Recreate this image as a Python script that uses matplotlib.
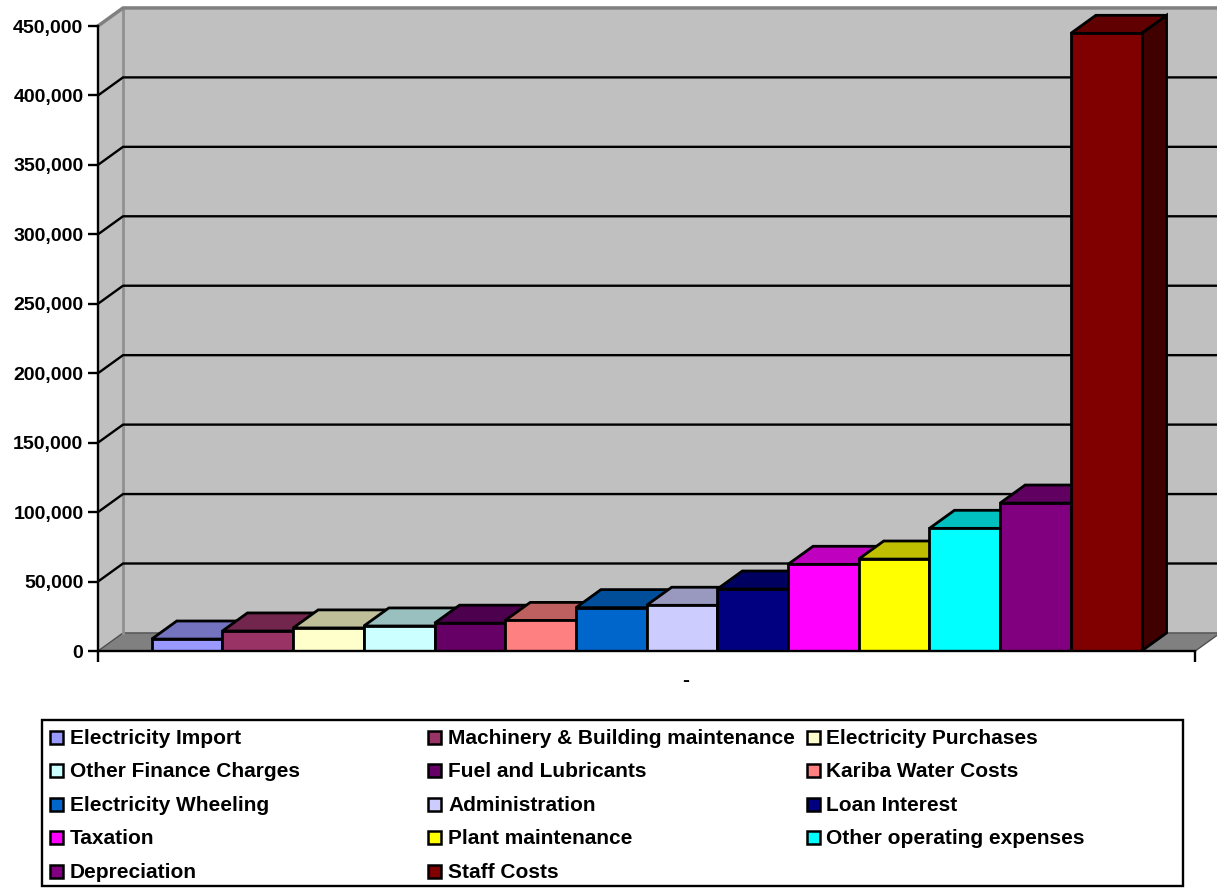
"""
Custos operacionais por rubrica - gráfico de barras em estilo 3D (Excel).
"""

import matplotlib
matplotlib.use("Agg")
import matplotlib.pyplot as plt
import matplotlib.colors as mcolors
from matplotlib.patches import Polygon, Rectangle
from matplotlib.ticker import FuncFormatter
import numpy as np

plt.rcParams['font.family'] = ['Liberation Sans', 'DejaVu Sans']
plt.rcParams['font.weight'] = 'bold'

# Dados (valores aproximados)
series = ["Electricity Import", "Machinery & Building maintenance", "Electricity Purchases",
          "Other Finance Charges", "Fuel and Lubricants", "Kariba Water Costs",
          "Electricity Wheeling", "Administration", "Loan Interest", "Taxation",
          "Plant maintenance", "Other operating expenses", "Depreciation", "Staff Costs"]
values = [8600, 14400, 16600, 18000, 20000, 22000, 31200, 32900,
          44600, 62400, 66200, 88300, 106500, 444700]
colors = ["#9999FF", "#993366", "#FFFFCC", "#CCFFFF", "#660066", "#FF8080", "#0066CC",
          "#CCCCFF", "#000080", "#FF00FF", "#FFFF00", "#00FFFF", "#800080", "#800000"]
category = "-"
y_ticks = list(range(0, 450001, 50000))


def shade(c, f):
    return tuple(np.array(mcolors.to_rgb(c)) * f)


def gerar_grafico():
    W, H = 1217, 888
    fig = plt.figure(figsize=(W / 100, H / 100), dpi=100)

    n = len(values)
    gap = 0.76                      # espaço entre a parede e a primeira/última barra
    xmin, xmax = -0.5 - gap, n - 0.5 + gap
    ymax = y_ticks[-1]
    DX, DY = 0.354, 13000           # profundidade do efeito 3D (em unidades dos dados)

    px_x = 70.7                     # pixels por categoria
    px_y = 625 / ymax               # pixels por unidade de valor
    left_px, base_px = 98, 651
    ax_w = (xmax + DX - xmin) * px_x
    ax_h = (ymax + DY) * px_y
    ax = fig.add_axes([left_px / W, (H - base_px) / H, ax_w / W, ax_h / H])
    ax.set_xlim(xmin, xmax + DX)
    ax.set_ylim(0, ymax + DY)
    ax.patch.set_visible(False)

    # Paredes e piso
    ax.add_patch(Rectangle((xmin + DX, DY), xmax - xmin, ymax, fc="#C0C0C0", ec="none", zorder=0))
    ax.add_patch(Polygon([(xmin, 0), (xmin, ymax), (xmin + DX, ymax + DY), (xmin + DX, DY)],
                         closed=True, fc="#C0C0C0", ec="none", zorder=0))
    ax.add_patch(Polygon([(xmin, 0), (xmax, 0), (xmax + DX, DY), (xmin + DX, DY)],
                         closed=True, fc="#808080", ec="#505050", lw=1, zorder=1))
    ax.plot([xmin + DX, xmin + DX], [DY, ymax + DY], color="#909090", lw=2, zorder=1)

    # Linhas de grade (parede lateral + parede do fundo)
    for t in y_ticks[1:-1]:
        ax.plot([xmin, xmin + DX, xmax + DX], [t, t + DY, t + DY], color="black", lw=1.7,
                zorder=1, clip_on=False, solid_capstyle="butt")
    ax.plot([xmin, xmin + DX, xmax + DX], [ymax, ymax + DY, ymax + DY], color="#808080",
            lw=2.5, zorder=1, clip_on=False)

    # Barras: face frontal, topo e lateral
    x = np.arange(n)
    bars = ax.bar(x, values, width=1.0, color=colors, edgecolor="black", linewidth=2)
    for i, (b, v, c) in enumerate(zip(bars, values, colors)):
        x0, x1 = x[i] - 0.5, x[i] + 0.5
        z = 3 + 3 * i
        side = Polygon([(x1, 0), (x1 + DX, DY), (x1 + DX, v + DY), (x1, v)], closed=True,
                       fc=shade(c, 0.5), ec="black", lw=2, zorder=z)
        top = Polygon([(x0, v), (x1, v), (x1 + DX, v + DY), (x0 + DX, v + DY)], closed=True,
                      fc=shade(c, 0.75), ec="black", lw=2, zorder=z + 1)
        ax.add_patch(side)
        ax.add_patch(top)
        b.set_zorder(z + 2)

    # Eixos
    for s in ("top", "right"):
        ax.spines[s].set_visible(False)
    ax.spines["left"].set_bounds(0, ymax)
    ax.spines["bottom"].set_bounds(xmin, xmax)
    for s in ("left", "bottom"):
        ax.spines[s].set_linewidth(1.7)
        ax.spines[s].set_zorder(60)
    ax.set_yticks(y_ticks)
    ax.yaxis.set_major_formatter(FuncFormatter(lambda v, p: f"{int(v):,}"))
    ax.tick_params(axis="y", direction="out", length=7, width=1.7, labelsize=14, pad=3.5)
    ax.set_xticks([xmin, xmax])
    ax.set_xticklabels(["", ""])
    ax.tick_params(axis="x", direction="out", length=8, width=1.7)
    ax.annotate(category, xy=((-0.5 + xmax + DX) / 2, 0), xytext=(0, -21),
                textcoords="offset points", ha="center", va="center", fontsize=15,
                fontweight="bold", annotation_clip=False)

    # Legenda desenhada à mão (colunas com largura fixa, como no Excel)
    lg = fig.add_axes([0, 0, 1, 1], zorder=5)
    lg.set_xlim(0, W)
    lg.set_ylim(H, 0)
    lg.axis("off")
    lg.add_patch(Rectangle((42, 720), 1141, 166, fill=False, ec="black", lw=1.7))
    sq_x = [50, 428, 807]
    tx_x = [70, 448, 826]
    for k, (nome, c) in enumerate(zip(series, colors)):
        r, col = divmod(k, 3)
        cy = 737 + 33.5 * r
        lg.add_patch(Rectangle((sq_x[col], cy - 6.5), 13, 13, fc=c, ec="black", lw=1.8))
        lg.text(tx_x[col], cy + 6.5, nome, fontsize=15, fontweight="bold",
                ha="left", va="baseline")

    fig.savefig("out.png", dpi=100, facecolor="white")


if __name__ == "__main__":
    gerar_grafico()
